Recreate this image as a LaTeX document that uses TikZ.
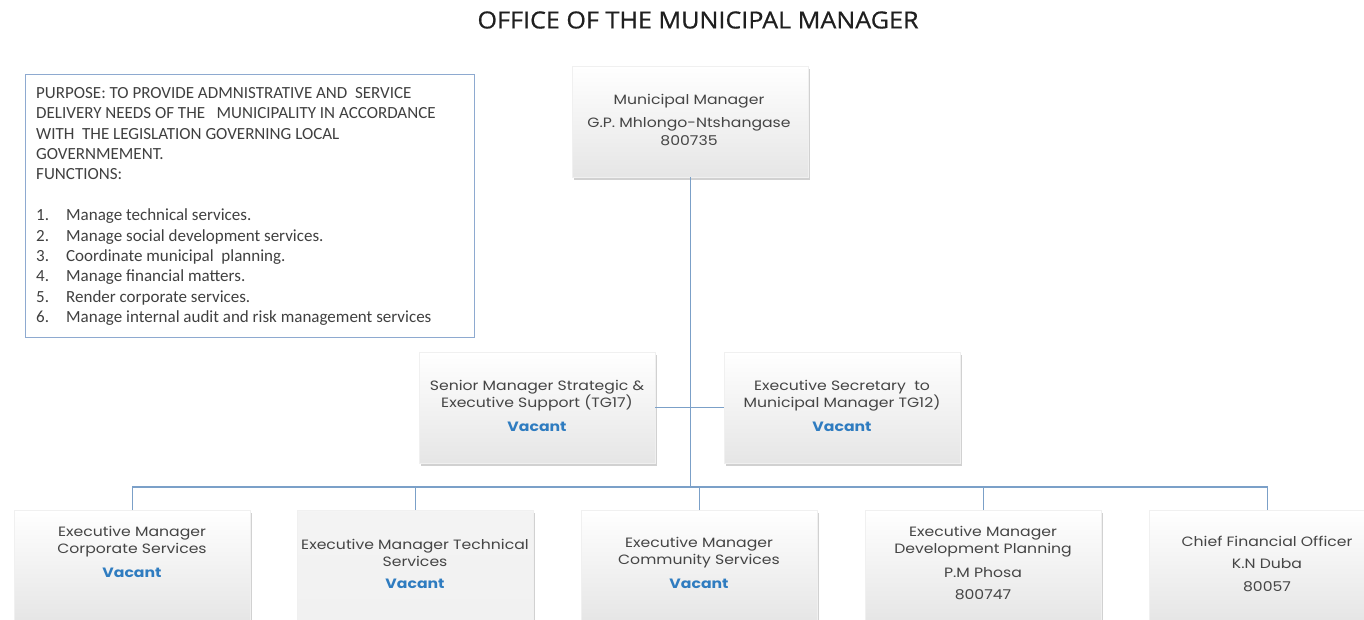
\documentclass[tikz,border=0pt]{standalone}
\usepackage{fontspec}
\setmainfont{Carlito}
\newfontfamily\titlefont[FakeStretch=1.07,FakeBold=0.6]{Open Sans}
\newfontfamily\boxfont[FakeStretch=1.16]{Poppins}
\usetikzlibrary{shadows,calc}
\definecolor{linkblue}{HTML}{7BA0C8}
\definecolor{frameblue}{HTML}{8EAAD0}
\definecolor{vacantblue}{HTML}{2F7CC0}
\definecolor{boxtext}{HTML}{454545}
\tikzset{
  post/.style={rectangle, anchor=north west, minimum width=236pt, minimum height=111pt,
    inner sep=0pt, top color=white, bottom color=gray!20, draw=gray!12,
    drop shadow={shadow xshift=1.5pt, shadow yshift=-3pt, opacity=0.45, fill=gray!80}},
  flatpost/.style={post, top color=gray!9, bottom color=gray!11},
  role/.style={font=\boxfont\fontsize{13.5}{17}\selectfont, text=boxtext, align=center, inner sep=0pt},
  vacant/.style={font=\boxfont\bfseries\fontsize{13.5}{17}\selectfont, text=vacantblue, inner sep=0pt},
  link/.style={draw=linkblue, line width=1.4pt},
}
\begin{document}
\begin{tikzpicture}[x=1pt,y=-1pt]
\useasboundingbox (0,0) rectangle (1364,619);
\clip (0,0) rectangle (1364,619);
\fill[white] (0,0) rectangle (1364,619);

% heading
\node[font=\titlefont\fontsize{23.5}{28}\selectfont, text=black!88] (title) at (698,20) {OFFICE OF THE MUNICIPAL MANAGER};

% purpose and functions
\node[draw=frameblue, line width=1.2pt, anchor=north west, minimum width=449pt, minimum height=263pt, inner sep=0pt] (purpose) at (25,74) {};
\node[anchor=north west, inner sep=0pt, align=left, text=black!75,
      font=\fontsize{17}{20.4}\selectfont] (purposetext) at (36,87)
 {PURPOSE: TO PROVIDE ADMNISTRATIVE AND\ \ SERVICE\\
  DELIVERY NEEDS OF THE\ \ \ MUNICIPALITY IN ACCORDANCE\\
  WITH\ \ THE LEGISLATION GOVERNING LOCAL\\
  GOVERNMEMENT.\\
  FUNCTIONS:\\[20.4pt]
  \makebox[30pt][l]{1.}Manage technical services.\\
  \makebox[30pt][l]{2.}Manage social development services.\\
  \makebox[30pt][l]{3.}Coordinate municipal\ \ planning.\\
  \makebox[30pt][l]{4.}Manage financial matters.\\
  \makebox[30pt][l]{5.}Render corporate services.\\
  \makebox[30pt][l]{6.}Manage internal audit and risk management services};

% posts
\node[post] (mm) at (572,66) {};
\node[post] (sm) at (419,352) {};
\node[post] (es) at (724,352) {};
\node[post] (c1) at (14,510) {};
\node[flatpost] (c2) at (297,510) {};
\node[post] (c3) at (581,510) {};
\node[post] (c4) at (865,510) {};
\node[post] (c5) at (1149,510) {};

% reporting lines
\coordinate (bar) at (0,487);
\draw[link] (mm.south) -- (mm.south |- bar);
\draw[link] (sm.east) -- (es.west);
\draw[link] (c1.north) -- (c1.north |- bar) -- (c5.north |- bar) -- (c5.north);
\draw[link] (c2.north) -- (c2.north |- bar);
\draw[link] (c3.north) -- (c3.north |- bar);
\draw[link] (c4.north) -- (c4.north |- bar);

% labels
\node[role] (mmt1) at (689,101) {Municipal Manager};
\node[role] (mmt2) at (689,124) {G.P. Mhlongo-Ntshangase};
\node[role] (mmt3) at (689,141) {800735};

\node[role] (smt) at (537,396) {Senior Manager Strategic \&\\Executive Support (TG17)};
\node[vacant] (smv) at (537,427) {Vacant};
\node[role] (est) at (842,396) {Executive Secretary\ \ to\\Municipal Manager TG12)};
\node[vacant] (esv) at (842,427) {Vacant};

\node[role] (c1t) at (132,542) {Executive Manager\\Corporate Services};
\node[vacant] (c1v) at (132,573) {Vacant};
\node[role] (c2t) at (415,553) {Executive Manager Technical\\Services};
\node[vacant] (c2v) at (415,584) {Vacant};
\node[role] (c3t) at (699,553) {Executive Manager\\Community Services};
\node[vacant] (c3v) at (699,584) {Vacant};
\node[role] (c4t) at (983,542) {Executive Manager\\Development Planning};
\node[role] (c4n) at (983,573) {P.M Phosa};
\node[role] (c4c) at (983,595) {800747};
\node[role] (c5t) at (1267,541) {Chief Financial Officer};
\node[role] (c5n) at (1267,564) {K.N Duba};
\node[role] (c5c) at (1267,587) {80057};
\end{tikzpicture}
\end{document}
